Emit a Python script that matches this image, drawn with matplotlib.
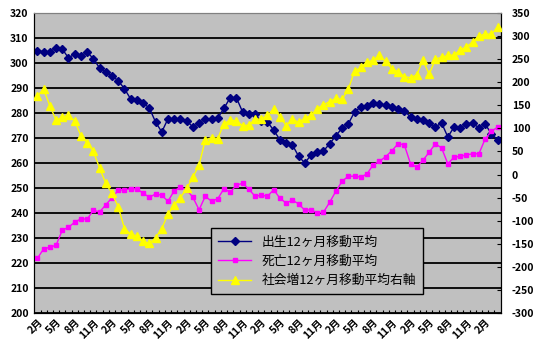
import matplotlib
matplotlib.use("Agg")
import matplotlib.pyplot as plt
from matplotlib.lines import Line2D

plt.rcParams['font.family'] = ['Noto Sans CJK JP', 'DejaVu Sans']
plt.rcParams['axes.unicode_minus'] = False

# 12ヶ月移動平均 (月次, 2月始まり)
births = [304.9, 304.5, 304.5, 306.0, 305.6, 302.0, 303.6, 302.8, 304.4, 301.7,
          298.0, 296.4, 294.8, 292.9, 289.7, 285.6, 285.3, 284.0, 282.0,
          276.4, 272.4, 277.7, 277.7, 277.7, 276.9, 274.4, 276.0, 277.7, 277.7,
          278.0, 281.9, 286.1, 286.1, 280.4, 279.5, 279.5, 276.7, 276.4,
          273.1, 269.3, 268.0, 267.3, 262.7, 260.0, 263.2, 264.4, 264.8, 267.7,
          270.9, 274.0, 275.7, 280.4, 282.4, 282.7, 284.0, 283.5, 283.2,
          282.4, 281.7, 280.9, 278.4, 277.6, 277.3, 276.0, 274.4, 276.0, 270.4,
          274.4, 274.0, 275.7, 276.0, 274.0, 275.6, 271.7, 269.3]

deaths = [221.9, 225.6, 226.3, 227.1, 233.1, 234.3, 236.3, 237.7, 237.5, 241.1,
          240.4, 243.3, 246.1, 249.1, 249.3, 249.7, 249.7, 247.9, 246.3,
          247.6, 247.1, 244.7, 248.9, 250.3, 249.3, 246.3, 241.3, 246.7, 244.7,
          245.7, 249.7, 248.3, 251.1, 251.9, 249.5, 246.7, 247.1, 246.7,
          249.3, 245.9, 244.0, 245.1, 243.7, 241.1, 241.3, 240.0, 240.3, 244.3,
          248.7, 252.7, 254.7, 254.7, 254.4, 255.6, 259.3, 260.7, 262.5,
          264.9, 267.7, 267.3, 259.7, 258.3, 261.1, 264.3, 267.7, 266.0, 259.7,
          262.3, 262.7, 263.2, 263.7, 263.7, 269.6, 272.7, 274.3]

social = [170, 185, 149, 118, 124, 129, 116, 84, 69, 50,
          14, -19, -41, -70, -117, -129, -133, -145, -149,
          -137, -117, -86, -66, -50, -30, -6, 21, 75, 80,
          78, 110, 118, 116, 106, 107, 120, 120, 128,
          142, 125, 106, 120, 113, 122, 128, 143, 151, 158,
          165, 163, 185, 224, 232, 243, 248, 258, 245,
          229, 223, 212, 210, 216, 248, 217, 250, 254, 258,
          259, 270, 277, 287, 301, 304, 304, 319]

tick_labels = ['2月', '5月', '8月', '11月'] * 6 + ['2月']

names = ['出生12ヶ月移動平均', '死亡12ヶ月移動平均', '社会増12ヶ月移動平均右軸']

x = list(range(len(births)))

fig = plt.figure(figsize=(5.4, 3.54), dpi=100)
ax = fig.add_axes([0.0635, 0.1158, 0.8637, 0.8475])
ax.set_facecolor('#C0C0C0')

ax.plot(x, births, color='#000080', lw=1, marker='D', ms=4.2, zorder=3)
ax.plot(x, deaths, color='#FF00FF', lw=1, marker='s', ms=3.2, zorder=3)

ax.set_ylim(200, 320)
ax.set_yticks(range(200, 321, 10))
ax.set_xlim(-0.5, len(x) - 0.5)
ax.grid(axis='y', color='black', lw=1.3)
ax.set_axisbelow(True)

ax.set_xticks(range(0, len(x), 3))
ax.set_xticklabels(tick_labels, rotation=45, ha='right', va='top',
                   rotation_mode='anchor', fontsize=7.5, fontweight='bold')
ax.set_xticks([i + 0.5 for i in range(len(x) - 1)], minor=True)
ax.tick_params(axis='x', which='major', length=0, pad=3)
ax.tick_params(axis='x', which='minor', direction='in', length=2.5, width=0.8)
ax.tick_params(axis='y', length=0, pad=4, labelsize=7.5)
for t in ax.get_yticklabels():
    t.set_fontweight('bold')

ax2 = ax.twinx()
ax2.plot(x, social, color='#FFFF00', lw=1, marker='^', ms=5.5, zorder=3)
ax2.set_ylim(-300, 350)
ax2.set_yticks(range(-300, 351, 50))
ax2.tick_params(axis='y', direction='in', length=3, pad=8, labelsize=7.5)
for t in ax2.get_yticklabels():
    t.set_fontweight('bold')

for a in (ax, ax2):
    a.spines['top'].set_color('#808080')
    a.spines['left'].set_color('black')
    a.spines['right'].set_color('black')
    a.spines['bottom'].set_color('black')

handles = [
    Line2D([], [], color='#000080', lw=1, marker='D', ms=4.2),
    Line2D([], [], color='#FF00FF', lw=1, marker='s', ms=3.2),
    Line2D([], [], color='#FFFF00', lw=1, marker='^', ms=5.5),
]
leg = ax2.legend(handles, names, loc='lower left', bbox_to_anchor=(0.365, 0.041),
                 fontsize=9.2, frameon=True, fancybox=False, framealpha=1,
                 facecolor='#C0C0C0', edgecolor='black', handlelength=2.6,
                 labelspacing=0.5, borderpad=0.55)
leg.get_frame().set_linewidth(1)

fig.savefig('out.png', dpi=100)
